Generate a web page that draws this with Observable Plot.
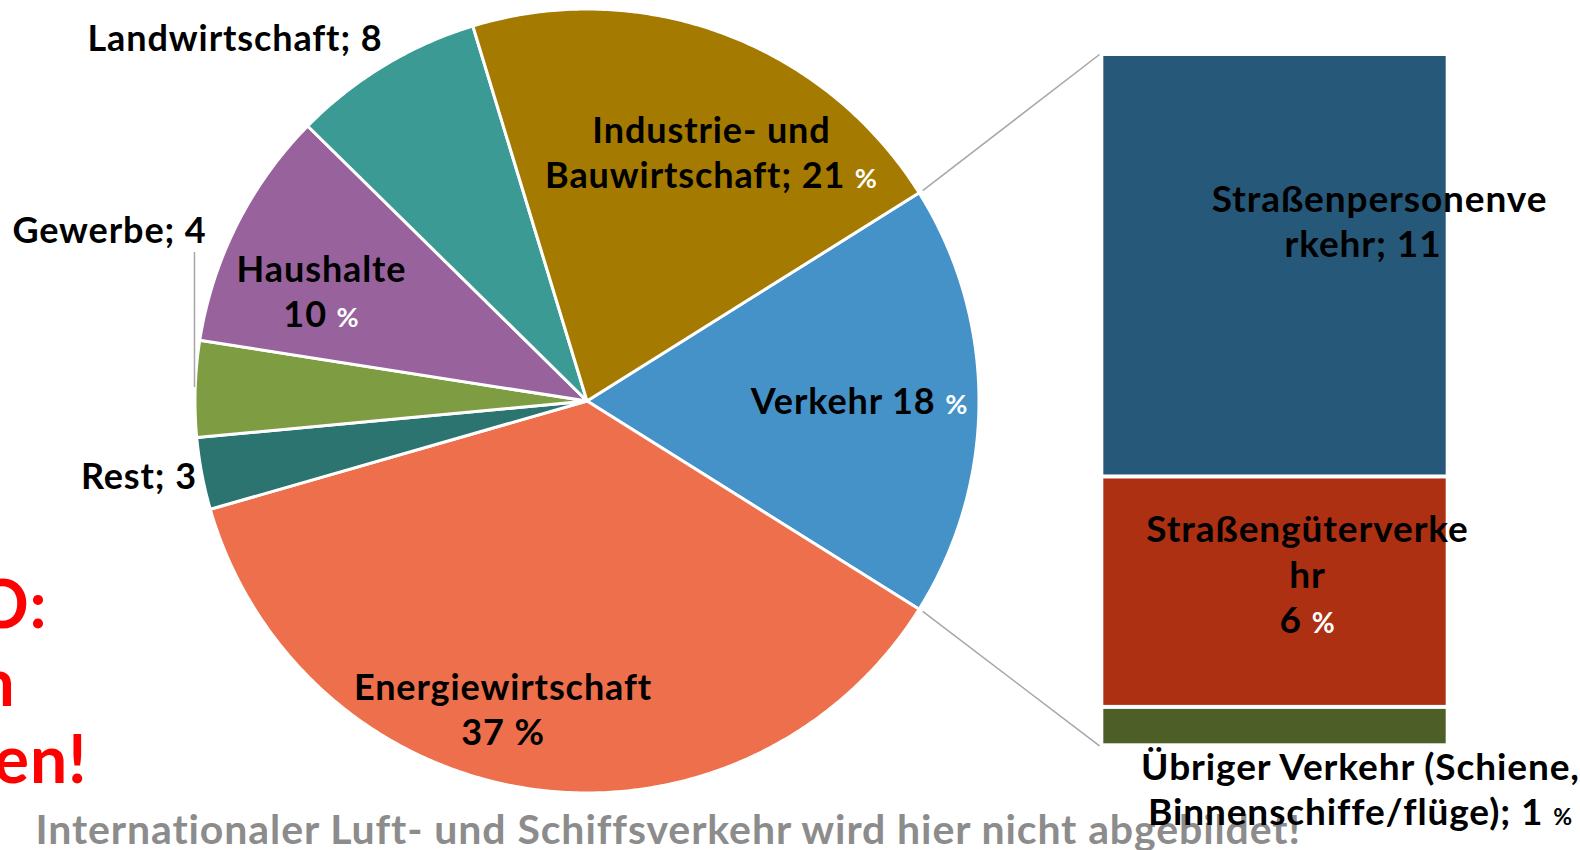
<!DOCTYPE html>
<html><head><meta charset="utf-8">
<script src="https://cdn.jsdelivr.net/npm/d3@7"></script>
<script src="https://cdn.jsdelivr.net/npm/@observablehq/plot@0.6"></script>
<style>
html,body{margin:0;padding:0;background:#fff;}
#chart{position:relative;width:1580px;height:850px;overflow:hidden;}
#chart svg text{font-variant-ligatures:none;font-feature-settings:"liga" 0, "clig" 0;letter-spacing:0.9px;}
</style></head><body><div id="chart"></div>
<script>
// ---------- data ----------
const sectors = ["Verkehr", "Energiewirtschaft", "Rest", "Gewerbe", "Haushalte", "Landwirtschaft", "Industrie- und Bauwirtschaft"];
const sectorShares = [18, 37, 3, 4, 10, 8, 21];
const sectorColors = ["#4592c8", "#ee6f4c", "#2c7470", "#7e9d43", "#98629d", "#3c9a94", "#a47a00"];
const sectorLabels = ["Verkehr 18 %", "Energiewirtschaft\n37 %", "Rest; 3", "Gewerbe; 4", "Haushalte\n10 %", "Landwirtschaft; 8", "Industrie- und\nBauwirtschaft; 21 %"];

const transportParts = ["Straßenpersonenverkehr", "Straßengüterverkehr", "Übriger Verkehr (Schiene, Binnenschiffe/flüge)"];
const transportShares = [11, 6, 1];
const transportColors = ["#26587a", "#ad3012", "#4d5e27"];
const transportLabels = ["Straßenpersonenve\nrkehr; 11 %", "Straßengüterverke\nhr\n6 %", "Übriger Verkehr (Schiene,\nBinnenschiffe/flüge); 1 %"];

const noteLines = ["O:", "n", "en!"];
const captionText = "Internationaler Luft- und Schiffsverkehr wird hier nicht abgebildet!";

// ---------- layout (pie radius = 1 unit) ----------
const W = 1580, H = 850;
const R = 392, CX = 586.5, CY = 400.5;
const ML = CX - R, MR = W - (CX + R), MT = CY - R, MB = H - (CY + R);
const BAR = {left: 1.3184, right: 2.1918, top: 0.8839, bottom: -0.8796, linkX: 1.3074, linkR: 1.0107};
const sectorLabelPos = [[0.6952, -0.0319], [-0.2143, -0.8763], [-1.1431, -0.2240], [-1.2181, 0.4043], [-0.6773, 0.1883], [-0.8980, 0.8941], [0.3176, 0.5434]];
const transportLabelPos = [[2.0217, 0.3668], [1.8380, -0.5923], [1.9732, -1.0820]];
const pctStyle = new Map([
  ["Verkehr 18 %", {fill: "#fff", size: 27}],
  ["Haushalte\n10 %", {fill: "#fff", size: 27}],
  ["Industrie- und\nBauwirtschaft; 21 %", {fill: "#fff", size: 27}],
  ["Straßenpersonenve\nrkehr; 11 %", {fill: "#fff", size: 27}],
  ["Straßengüterverke\nhr\n6 %", {fill: "#fff", size: 28}],
  ["Übriger Verkehr (Schiene,\nBinnenschiffe/flüge); 1 %", {fill: "#000", size: 23}]
]);
const gewerbeLeader = {u: -1.0013, v1: 0.3788, v2: 0.0344};

// ---------- geometry derived from data ----------
const total = d3.sum(sectorShares);
const start = Math.PI / 2 - Math.PI * sectorShares[0] / total; // Verkehr centred at 3 o'clock
const arcs = d3.pie().sort(null).startAngle(start).endAngle(start + 2 * Math.PI)(sectorShares);
const slicePts = [];
arcs.forEach((a, i) => {
  slicePts.push({name: sectors[i], u: 0, v: 0});
  const n = Math.max(2, Math.ceil((a.endAngle - a.startAngle) / (Math.PI / 360)));
  for (let k = 0; k <= n; k++) {
    const t = a.startAngle + (a.endAngle - a.startAngle) * k / n;
    slicePts.push({name: sectors[i], u: Math.sin(t), v: Math.cos(t)});
  }
});

const tTotal = d3.sum(transportShares);
const sv = s => BAR.top - (s / tTotal) * (BAR.top - BAR.bottom);
let cum = 0;
const barRects = transportParts.map((p, i) => {
  const r = {name: p, s0: cum, s1: cum + transportShares[i]};
  cum += transportShares[i];
  return r;
});

const vk = arcs[0];
const connectors = [
  {u1: BAR.linkR * Math.sin(vk.startAngle), v1: BAR.linkR * Math.cos(vk.startAngle), u2: BAR.linkX, v2: sv(0)},
  {u1: BAR.linkR * Math.sin(vk.endAngle), v1: BAR.linkR * Math.cos(vk.endAngle), u2: BAR.linkX, v2: sv(tTotal)}
];

const sectorRows = sectorLabels.map((l, i) => ({label: l, u: sectorLabelPos[i][0], v: sectorLabelPos[i][1]}));
const transportRows = transportLabels.map((l, i) => ({label: l, u: transportLabelPos[i][0], v: transportLabelPos[i][1]}));

const note = (text, px, py, o) => Plot.text([text], {
  frameAnchor: "top-left", dx: px - ML, dy: py - MT, text: d => d,
  lineAnchor: "bottom", fontWeight: "bold", fontFamily: "Lato", ...o
});
const labelOpts = {x: "u", y: "v", text: "label", textAnchor: "middle", lineAnchor: "bottom", fontWeight: "bold", fontFamily: "Lato", fill: "#000"};

const chart = Plot.plot({
  width: W, height: H,
  marginLeft: ML, marginRight: MR, marginTop: MT, marginBottom: MB,
  x: {domain: [-1, 1], axis: null},
  y: {domain: [-1, 1], axis: null},
  color: {domain: [...sectors, ...transportParts], range: [...sectorColors, ...transportColors]},
  style: {fontFamily: "Lato", background: "white"},
  marks: [
    Plot.line(slicePts, {x: "u", y: "v", z: "name", fill: "name", stroke: "white", strokeWidth: 3, curve: "linear-closed", strokeLinejoin: "round"}),
    Plot.rect(barRects, {x1: () => BAR.left, x2: () => BAR.right, y1: d => sv(d.s0), y2: d => sv(d.s1), fill: "name", insetTop: 2, insetBottom: 2}),
    Plot.link(connectors, {x1: "u1", y1: "v1", x2: "u2", y2: "v2", stroke: "#a6a6a6", strokeWidth: 1.5}),
    Plot.ruleX([gewerbeLeader], {x: "u", y1: "v1", y2: "v2", stroke: "#a6a6a6", strokeWidth: 1.5}),
    note(noteLines[0], 47, 627, {fontSize: 66, fill: "#ff0000", textAnchor: "end"}),
    note(noteLines[1], 15, 705, {fontSize: 66, fill: "#ff0000", textAnchor: "end"}),
    note(noteLines[2], 87, 782, {fontSize: 66, fill: "#ff0000", textAnchor: "end"}),
    note(captionText, 35, 843, {fontSize: 41, fill: "#8c8c8c", textAnchor: "start"}),
    Plot.text(sectorRows, {...labelOpts, fontSize: 36, lineHeight: 1.25}),
    Plot.text(transportRows, {...labelOpts, fontSize: 37, lineHeight: 1.23})
  ]
});

// smaller / white percent signs as in the original
chart.querySelectorAll("text").forEach(t => {
  const tspans = t.querySelectorAll("tspan");
  const nodes = tspans.length ? [...tspans] : [t];
  const full = nodes.map(n => n.textContent).join("\n");
  const st = pctStyle.get(full);
  if (!st) return;
  const last = nodes[nodes.length - 1];
  const s = last.textContent;
  const idx = s.lastIndexOf("%");
  last.textContent = s.slice(0, idx);
  const p = document.createElementNS("http://www.w3.org/2000/svg", "tspan");
  p.textContent = "%";
  p.setAttribute("fill", st.fill);
  p.setAttribute("font-size", st.size);
  last.appendChild(p);
});

document.getElementById("chart").appendChild(chart);
</script>
</body></html>
